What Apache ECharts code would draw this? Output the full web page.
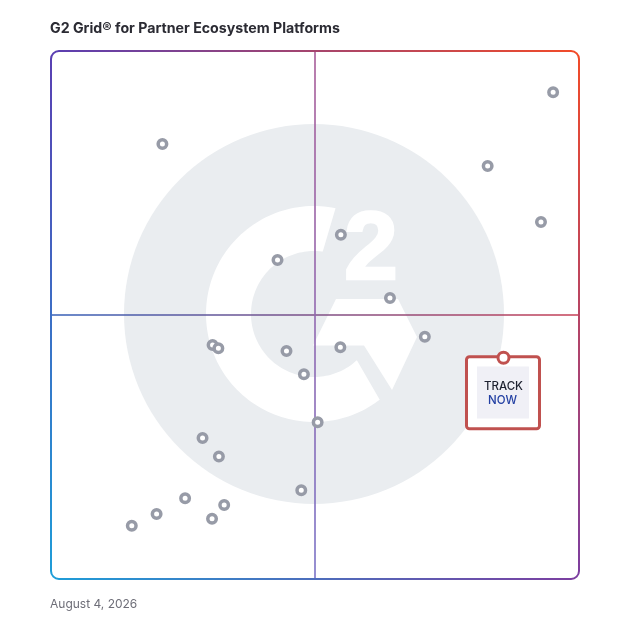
<!DOCTYPE html>
<html>
<head>
<meta charset="utf-8">
<script src="https://cdn.jsdelivr.net/npm/echarts@6/dist/echarts.min.js"></script>
<style>
html,body{margin:0;padding:0;background:#fff;}
#chart{width:628px;height:628px;}
</style>
</head>
<body>
<div id="chart"></div>
<script>
// ---- Data ----
const titleText = 'G2 Grid\u00ae for Partner Ecosystem Platforms';
const dateText = 'August 4, 2026';
// Vendor positions (x = market presence, y = satisfaction), 0-100 scale
const vendorX = [21.1, 95.1, 82.7, 92.8, 54.9, 42.9, 64.2, 70.8, 30.6, 31.7, 44.6, 54.8, 47.9, 50.5, 28.7, 31.8, 47.4, 25.4, 32.8, 20.0, 30.5, 15.3];
const vendorY = [82.4, 92.2, 78.2, 67.6, 65.2, 60.4, 53.2, 45.9, 44.3, 43.7, 43.2, 43.9, 38.8, 29.7, 26.7, 23.2, 16.8, 15.3, 14.0, 12.3, 11.4, 10.1];
const highlightX = [85.7];
const highlightY = [41.9];
const highlightName = ['TRACK', 'NOW'];
const axisMin = 0, axisMax = 100, axisMid = 50;

const vendorData = vendorX.map((x, i) => [x, vendorY[i]]);
const highlightData = highlightX.map((x, i) => [x, highlightY[i]]);

const RED = '#c0514f';
const chart = echarts.init(document.getElementById('chart'), null, {renderer: 'canvas'});

const option = {
  animation: false,
  backgroundColor: '#ffffff',
  title: {
    text: titleText,
    left: 50, top: 22, padding: 0,
    textStyle: {fontFamily: 'Inter', fontWeight: 650, fontSize: 14.2, color: '#2b2b33'}
  },
  grid: {left: 51, top: 51, right: 49, bottom: 49, show: false},
  xAxis: {type: 'value', min: axisMin, max: axisMax, show: false},
  yAxis: {type: 'value', min: axisMin, max: axisMax, show: false},
  series: [
    {
      type: 'scatter',
      data: vendorData,
      symbol: 'circle',
      symbolSize: 8.5,
      z: 5,
      itemStyle: {color: '#ffffff', borderColor: '#979ba7', borderWidth: 3.5, opacity: 1},
      emphasis: {disabled: true}
    },
    {
      type: 'custom',
      data: highlightData,
      z: 6,
      renderItem: function (params, api) {
        const p = api.coord([api.value(0), api.value(1)]);
        const x = p[0], y = p[1];
        return {
          type: 'group',
          children: [
            {type: 'rect', shape: {x: x - 37, y: y - 1, width: 73, height: 72, r: 3},
              style: {fill: '#ffffff', stroke: RED, lineWidth: 3}},
            {type: 'rect', shape: {x: x - 26.5, y: y + 8.7, width: 52, height: 52},
              style: {fill: '#f0f0f6'}},
            {type: 'text', style: {text: highlightName[0], x: x, y: y + 29, align: 'center', verticalAlign: 'middle',
              font: '500 11.5px Inter', fill: '#1e2230'}},
            {type: 'text', style: {text: highlightName[1], x: x - 1, y: y + 43, align: 'center', verticalAlign: 'middle',
              font: '500 11.5px Inter', fill: '#2340a3'}},
            {type: 'circle', shape: {cx: x, cy: y, r: 5.5},
              style: {fill: '#ffffff', stroke: RED, lineWidth: 3}}
          ]
        };
      }
    }
  ],
  graphic: [
    {type: 'text', left: 50, top: 598,
      style: {text: dateText, font: '12px Inter', fill: '#6e6e78'}}
  ]
};
chart.setOption(option);

// Decorations tied to the axes' pixel extents
const pMin = chart.convertToPixel({gridIndex: 0}, [axisMin, axisMin]);
const pMax = chart.convertToPixel({gridIndex: 0}, [axisMax, axisMax]);
const pMid = chart.convertToPixel({gridIndex: 0}, [axisMid, axisMid]);
const x0 = pMin[0], y1 = pMin[1], x1 = pMax[0], y0 = pMax[1];
const cx = pMid[0] - 1, cy = pMid[1] - 1;

function lin(xa, ya, xb, yb, c0, c1) {
  return new echarts.graphic.LinearGradient(xa, ya, xb, yb, [{offset: 0, color: c0}, {offset: 1, color: c1}], true);
}
const TL = '#5a3fb2', TR = '#f24b28', BR = '#7c3ea0', BL = '#1e9dd8';
const rr = 8, bw = 2;
const deco = [];

// G2 logo background
deco.push({type: 'circle', z: -20, shape: {cx: cx, cy: cy, r: 190}, style: {fill: '#eaedf0'}});
// C shape
const R = 108, r = 63;
const cPts = [];
const a0 = 78.5, a1 = 307.5, b0 = 312.9, b1 = 82;
for (let a = a0; a <= a1 + 0.001; a += 2) {
  const t = a * Math.PI / 180;
  cPts.push([cx + R * Math.cos(t), cy - R * Math.sin(t)]);
}
{ const t = a1 * Math.PI / 180; cPts.push([cx + R * Math.cos(t), cy - R * Math.sin(t)]); }
for (let a = b0; a >= b1 - 0.001; a -= 2) {
  const t = a * Math.PI / 180;
  cPts.push([cx + r * Math.cos(t), cy - r * Math.sin(t)]);
}
{ const t = b1 * Math.PI / 180; cPts.push([cx + r * Math.cos(t), cy - r * Math.sin(t)]); }
deco.push({type: 'polygon', z: -19, shape: {points: cPts}, style: {fill: '#ffffff'}});
// chevron
const chev = [[22, -15], [84, -15], [103, 23], [78, 76], [50, 31.5], [-1, 31.5]].map(d => [cx + d[0], cy + d[1]]);
deco.push({type: 'polygon', z: -19, shape: {points: chev}, style: {fill: '#ffffff'}});
// the "2"
deco.push({type: 'text', z: -19, style: {text: '2', x: cx + 57, y: cy - 62, align: 'center', verticalAlign: 'middle',
  font: '900 97px "Liberation Sans"', fill: '#ffffff', stroke: '#ffffff', lineWidth: 2.5}});

// Quadrant lines
deco.push({type: 'line', z: 1, shape: {x1: x0, y1: pMid[1], x2: x1, y2: pMid[1]},
  style: {stroke: lin(x0, 0, x1, 0, '#3560b8', '#c63f55'), lineWidth: 1.6}});
deco.push({type: 'line', z: 1, shape: {x1: pMid[0], y1: y0, x2: pMid[0], y2: y1},
  style: {stroke: lin(0, y0, 0, y1, '#a85c98', '#7a72c6'), lineWidth: 1.6}});

// Border: sides with gradients + rounded corners
deco.push({type: 'line', z: 2, shape: {x1: x0 + rr, y1: y0, x2: x1 - rr, y2: y0}, style: {stroke: lin(x0, 0, x1, 0, TL, TR), lineWidth: bw}});
deco.push({type: 'line', z: 2, shape: {x1: x1, y1: y0 + rr, x2: x1, y2: y1 - rr}, style: {stroke: lin(0, y0, 0, y1, TR, BR), lineWidth: bw}});
deco.push({type: 'line', z: 2, shape: {x1: x0 + rr, y1: y1, x2: x1 - rr, y2: y1}, style: {stroke: lin(x0, 0, x1, 0, BL, BR), lineWidth: bw}});
deco.push({type: 'line', z: 2, shape: {x1: x0, y1: y0 + rr, x2: x0, y2: y1 - rr}, style: {stroke: lin(0, y0, 0, y1, TL, BL), lineWidth: bw}});
const P = Math.PI;
deco.push({type: 'arc', z: 2, shape: {cx: x0 + rr, cy: y0 + rr, r: rr, startAngle: P, endAngle: 1.5 * P}, style: {stroke: TL, lineWidth: bw, fill: null}});
deco.push({type: 'arc', z: 2, shape: {cx: x1 - rr, cy: y0 + rr, r: rr, startAngle: 1.5 * P, endAngle: 2 * P}, style: {stroke: TR, lineWidth: bw, fill: null}});
deco.push({type: 'arc', z: 2, shape: {cx: x1 - rr, cy: y1 - rr, r: rr, startAngle: 0, endAngle: 0.5 * P}, style: {stroke: BR, lineWidth: bw, fill: null}});
deco.push({type: 'arc', z: 2, shape: {cx: x0 + rr, cy: y1 - rr, r: rr, startAngle: 0.5 * P, endAngle: P}, style: {stroke: BL, lineWidth: bw, fill: null}});

chart.setOption({graphic: option.graphic.concat(deco)});
</script>
</body>
</html>
